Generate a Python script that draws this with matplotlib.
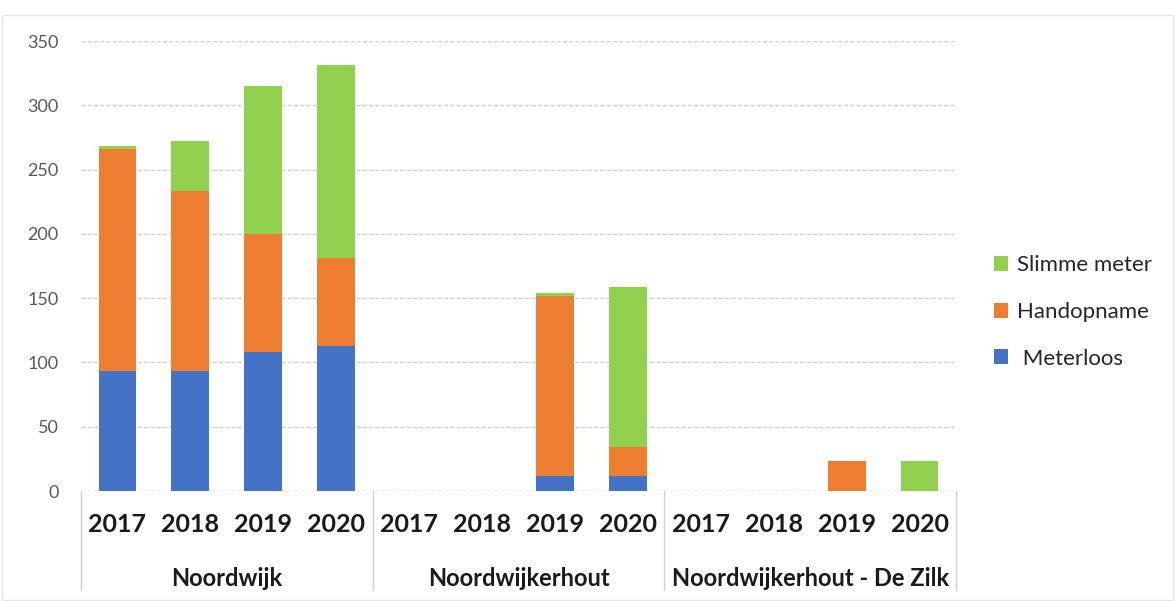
import matplotlib
matplotlib.use('Agg')
import matplotlib.pyplot as plt
import numpy as np

plt.rcParams['font.family'] = ['Lato', 'DejaVu Sans']

groups = ['Noordwijk', 'Noordwijkerhout', 'Noordwijkerhout - De Zilk']
years = ['2017', '2018', '2019', '2020']
meterloos = [93, 93, 108, 113, 0, 0, 12, 12, 0, 0, 0, 0]
handopname = [173, 140, 92, 68, 0, 0, 140, 22, 0, 0, 23, 0]
slimme = [2, 39, 115, 150, 0, 0, 2, 125, 0, 0, 0, 23]

blue = '#4472C4'
orange = '#ED7D31'
green = '#92D050'

fig = plt.figure(figsize=(11.75, 6.01), dpi=100)
ax = fig.add_axes([81/1175, 1-491/601, (956-81)/1175, 450/601])

x = np.arange(len(meterloos))
m = np.array(meterloos)
h = np.array(handopname)
s = np.array(slimme)
w = 0.52
b1 = ax.bar(x, m, w, color=blue, label=' Meterloos', zorder=3)
b2 = ax.bar(x, h, w, bottom=m, color=orange, label='Handopname', zorder=3)
b3 = ax.bar(x, s, w, bottom=m+h, color=green, label='Slimme meter', zorder=3)

ax.set_xlim(-0.5, len(x)-0.5)
ax.set_ylim(0, 350)
ax.set_yticks(range(0, 351, 50))
ax.yaxis.grid(True, color='#D0D0D0', linestyle=(0, (3, 1.5)), linewidth=1, zorder=0)
ax.tick_params(axis='y', length=0, pad=16, labelsize=13, labelcolor='#595959')
ax.set_xticks([])
for sp in ax.spines.values():
    sp.set_visible(False)
ax.axhline(0, color='#D0D0D0', linestyle=(0, (3, 1.5)), linewidth=1, zorder=1)

tr = ax.get_xaxis_transform()
# year labels and group labels below the axis
for i in range(len(x)):
    ax.text(i, -34/450, years[i % 4], transform=tr, ha='center', va='center',
            fontsize=18, fontweight='bold', color='#1a1a1a')
for g, name in enumerate(groups):
    ax.text(g*4 + 1.5, -87/450, name, transform=tr, ha='center', va='center',
            fontsize=17, fontweight='bold', color='#1a1a1a')
for xs in [-0.5, 3.5, 7.5, 11.5]:
    ax.plot([xs, xs], [0, -99/450], transform=tr, color='#D0D0D0',
            linewidth=1, clip_on=False)

ax.legend(handles=[b3, b2, b1], loc='center left', bbox_to_anchor=(974/1175, 1-312/601),
          bbox_transform=fig.transFigure, frameon=False, fontsize=16,
          handlelength=0.65, handleheight=0.65, handletextpad=0.4, labelspacing=1.2,
          labelcolor='#262626')

fig.patches.append(plt.Rectangle((2/1175, 1/601), 1-4/1175, 1-16/601, transform=fig.transFigure,
                                 fill=False, edgecolor='#E6E6E6', linewidth=1))

fig.savefig('out.png', dpi=100)
